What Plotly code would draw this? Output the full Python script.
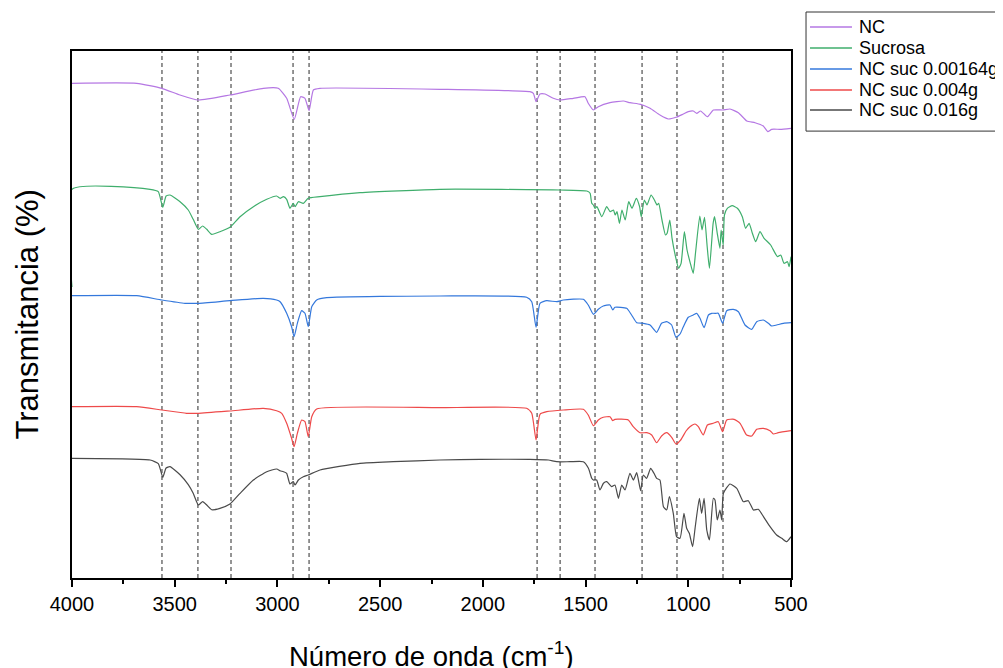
import plotly.graph_objects as go

# ---------------- data (wavenumber cm^-1, transmittance a.u.) ----------------
nc_wn = [4000, 3685, 3563, 3474, 3385, 3231, 3069, 2996, 2955, 2918, 2887, 2866, 2846, 2825, 2793,
         2209, 1771, 1754, 1741, 1722, 1697, 1657, 1624, 1560, 1503, 1487, 1462, 1438, 1381, 1316,
         1284, 1232, 1186, 1138, 1097, 1060, 1024, 1000, 976, 959, 940, 907, 878, 832, 797, 756,
         715, 675, 635, 613, 594, 553, 500]
nc_t = [494.7, 494.7, 489.7, 483, 478, 483, 489.7, 489.7, 479.7, 458.7, 481.3, 479.7, 467.3, 488, 489.7,
        488.7, 486.3, 484.7, 476.3, 484, 484, 479.7, 478, 479.7, 481.3, 474.7, 468, 471.3, 475.3, 477,
        475.3, 473.7, 469.7, 463, 459, 460.7, 464, 466.3, 467, 464.7, 467, 461.3, 468, 468, 469, 465.3,
        457, 455.3, 452, 446.3, 448.7, 448.7, 449.7]

suc_wn = [4000, 4000, 3620, 3580, 3558, 3542, 3523, 3474, 3434, 3410, 3385, 3364, 3344, 3320, 3280,
          3231, 3182, 3117, 3052, 3004, 2987, 2971, 2955, 2939, 2923, 2914, 2898, 2874, 2850, 2793,
          2598, 2209, 1624, 1494, 1478, 1470, 1462, 1454, 1445, 1421, 1397, 1380, 1364, 1356, 1347,
          1335, 1323, 1307, 1290, 1274, 1253, 1237, 1229, 1214, 1201, 1181, 1165, 1152, 1144, 1128,
          1111, 1103, 1090, 1079, 1062, 1047, 1035, 1019, 1006, 990, 976, 965, 944, 933, 921,
          908, 897, 879, 872, 859, 846, 840, 830, 824, 810, 786, 761, 737, 721, 704,
          688, 672, 651, 631, 599, 566, 550, 534, 517, 509, 500]
suc_t = [291, 388.7, 388.7, 386.3, 370.7, 382, 383, 376.3, 368, 358.7, 348.7, 352, 348.7, 343.7, 346.3,
         350.7, 361.3, 371.3, 378.7, 382, 379.7, 381.3, 378.7, 369.7, 374.7, 371.3, 376.3, 374.7, 379.7, 381.3,
         385.3, 388.7, 388, 387, 384.7, 374.7, 373, 369.7, 371.3, 361.3, 371.3, 366.3, 368, 363, 366.3,
         354.7, 368, 358, 376.3, 369.7, 379.7, 371.3, 361.3, 378, 373, 383, 378, 373, 374.7, 358,
         343, 344.7, 358, 339.7, 321.3, 309.7, 314.7, 346.3, 328, 314.7, 304.7, 324.7, 362, 348, 360.7,
         331.3, 309.7, 354.7, 361.3, 344.7, 329.7, 348, 333, 363, 369.7, 372.3, 369.7, 361.3, 349.7, 354.7,
         344.7, 336.3, 346.3, 339.7, 333, 321.3, 323, 314.7, 316.3, 311.3, 321.3]

s1_wn = [4000, 3685, 3563, 3450, 3385, 3231, 3069, 3004, 2987, 2955, 2931, 2919, 2903, 2882, 2866,
         2850, 2833, 2809, 2760, 2209, 1787, 1762, 1741, 1722, 1689, 1640, 1608, 1511, 1487, 1462,
         1438, 1414, 1381, 1368, 1357, 1300, 1276, 1251, 1219, 1186, 1154, 1130, 1105, 1081, 1060,
         1040, 1024, 1000, 976, 959, 943, 923, 902, 886, 865, 854, 833, 813, 781, 756,
         724, 691, 667, 635, 610, 594, 570, 537, 500]
s1_t = [282.3, 282.3, 278, 274.7, 274.7, 277.3, 279.7, 278, 276.3, 264.7, 251.3, 241.3, 254.7, 267.3, 264.7,
        251.3, 271.3, 278, 280.3, 282, 280.7, 276.3, 250.7, 274.7, 277.3, 276.3, 278, 278.7, 273, 263.7,
        268.7, 272, 273, 268, 270.7, 269.7, 263, 255.3, 254.7, 253, 245.7, 254.7, 256.3, 253, 240.7,
        244, 251.3, 260.7, 263, 264.7, 259.7, 250.3, 263, 264.7, 264.7, 264.7, 254.7, 267.3, 268.7, 266.3,
        253, 248.7, 256.3, 258, 254.7, 252, 253, 254.7, 255.3]

s2_wn = [4000, 3685, 3563, 3442, 3385, 3231, 3069, 3004, 2979, 2955, 2931, 2919, 2903, 2882, 2866,
         2850, 2833, 2809, 2209, 1787, 1762, 1741, 1722, 1689, 1608, 1511, 1487, 1462, 1438, 1414,
         1381, 1368, 1357, 1292, 1268, 1235, 1202, 1178, 1154, 1130, 1105, 1081, 1060, 1037, 1011,
         992, 967, 951, 927, 907, 878, 854, 833, 813, 777, 748, 716, 691, 667, 635,
         602, 586, 562, 500]
s2_t = [171.3, 171.3, 168, 164.7, 164.7, 167, 169.7, 167.3, 164.7, 154.7, 139.7, 131.3, 144.7, 158, 156.3,
        141.3, 161.3, 169, 170.3, 169.7, 164.7, 138, 163.7, 166.3, 168, 168.7, 163, 152.3, 158, 160.7,
        161.3, 157.3, 158.7, 158, 151.3, 145.3, 145.3, 143, 135.3, 142, 145.3, 140.7, 134, 138, 147,
        151.3, 154, 151.3, 143, 153, 154.7, 156.3, 146.3, 158, 158.7, 154.7, 143, 142, 148.7, 149.7,
        147.3, 144, 145.3, 147.3]

s3_wn = [4000, 3620, 3580, 3558, 3542, 3523, 3474, 3434, 3410, 3385, 3364, 3344, 3320, 3280, 3231,
         3182, 3117, 3052, 3004, 2987, 2971, 2955, 2939, 2923, 2914, 2898, 2874, 2850, 2793, 2598,
         2436, 2209, 2014, 1771, 1681, 1641, 1576, 1511, 1486, 1470, 1462, 1446, 1430, 1413, 1397,
         1373, 1357, 1340, 1324, 1308, 1284, 1267, 1251, 1232, 1219, 1203, 1183, 1167, 1154, 1138,
         1121, 1105, 1092, 1073, 1057, 1040, 1021, 1008, 995, 979, 967, 946, 935, 923, 910,
         897, 878, 870, 859, 846, 837, 829, 797, 764, 732, 708, 683, 659, 634, 602,
         570, 545, 521, 500]
s3_t = [119.7, 118, 114.3, 100.7, 110, 111.3, 103.3, 93.3, 84.7, 73, 76.3, 73, 68.3, 69.7, 74,
        84.7, 98, 106.3, 109, 107.3, 106.3, 104.7, 94, 96.3, 93, 98, 101.3, 103, 108, 114.7,
        116.3, 118, 118.7, 118.7, 118, 116.3, 116.3, 116.3, 109.7, 99.7, 98, 98, 88, 94.7, 96.3,
        91.3, 93, 79.7, 93, 88, 104.7, 98, 105.3, 87.3, 103, 99.7, 109.7, 104.7, 99.7, 98,
        71.3, 68, 81.3, 64.7, 41.3, 39.7, 64.7, 49.7, 44.7, 31.3, 49.7, 79.7, 64.7, 79.7, 48,
        38, 79.7, 78, 58, 68, 58, 84.7, 94, 89.7, 76.3, 77.3, 68, 68.7, 61.3, 51.3,
        43, 39.7, 36.3, 41.3]

series_names = ["NC", "Sucrosa", "NC suc 0.00164g", "NC suc 0.004g", "NC suc 0.016g"]
series_colors = ["#B577E3", "#3FAE6C", "#3478DC", "#EE4A4A", "#4A4A4A"]

peak_lines = [3562, 3387, 3226, 2924, 2846, 1736, 1624, 1454, 1225, 1055, 831]
x_ticks = [4000, 3500, 3000, 2500, 2000, 1500, 1000, 500]

# ---------------- figure ----------------
FONT = "Liberation Sans, Arial, sans-serif"
fig = go.Figure()
all_series = [(nc_wn, nc_t), (suc_wn, suc_t), (s1_wn, s1_t), (s2_wn, s2_t), (s3_wn, s3_t)]
for (wn, t), name, col in zip(all_series, series_names, series_colors):
    fig.add_trace(go.Scatter(x=wn, y=t, mode="lines", name=name, showlegend=False,
                             cliponaxis=False,
                             line=dict(color=col, width=1.2, shape="spline", smoothing=0.5)))

shapes = []
for p in peak_lines:
    shapes.append(dict(type="line", xref="x", yref="paper", x0=p, x1=p, y0=0, y1=1,
                       line=dict(color="#2a2a2a", width=1, dash="4px,3px"), layer="below"))

# legend drawn in paper coordinates (box, line samples, labels)
leg_x0, leg_x1, leg_top, leg_bot = 1.0209, 1.30, 1.074, 0.848
shapes.append(dict(type="rect", xref="paper", yref="paper", x0=leg_x0, x1=leg_x1,
                   y0=leg_bot, y1=leg_top, line=dict(color="#333333", width=1),
                   fillcolor="white", layer="above"))
annotations = []
leg_rows = [1.0455, 1.0057, 0.9658, 0.9260, 0.8880]
for name, col, yy in zip(series_names, series_colors, leg_rows):
    shapes.append(dict(type="line", xref="paper", yref="paper", x0=1.0264, x1=1.0848,
                       y0=yy, y1=yy, line=dict(color=col, width=1.5), layer="above"))
    annotations.append(dict(text=name, xref="paper", yref="paper", x=1.0918, y=yy,
                            xanchor="left", yanchor="middle", showarrow=False,
                            font=dict(size=18, family=FONT, color="black")))

annotations += [
    dict(text="Número de onda (cm<sup>-1</sup>)", xref="paper", yref="paper",
         x=0.5, y=-0.146, xanchor="center", yanchor="middle", showarrow=False,
         font=dict(size=27.5, family=FONT, color="black")),
    dict(text="Transmitancia (%)", xref="paper", yref="paper",
         x=-0.0612, y=0.5, xanchor="center", yanchor="middle", showarrow=False,
         textangle=-90, font=dict(size=31, family=FONT, color="black")),
]

fig.update_layout(
    width=1003, height=668,
    margin=dict(l=64, r=220, t=43, b=98, autoexpand=False),
    paper_bgcolor="white", plot_bgcolor="white",
    font=dict(family=FONT, color="#000000"),
    showlegend=False,
    xaxis=dict(range=[4000, 500], tickvals=x_ticks, ticktext=[str(v) for v in x_ticks],
               ticks="outside", ticklen=7, tickwidth=1.5, tickcolor="black",
               minor=dict(dtick=250, ticks="outside", ticklen=4, tickwidth=1.5, tickcolor="black",
                          tick0=500),
               showgrid=False, zeroline=False, showline=True, linecolor="black", linewidth=2,
               mirror=True, layer="below traces",
               tickfont=dict(size=20, family=FONT, color="black")),
    yaxis=dict(range=[0, 527], showticklabels=False, ticks="", showgrid=False, zeroline=False,
               showline=True, linecolor="black", linewidth=2, mirror=True, layer="below traces"),
    shapes=shapes,
    annotations=annotations,
)

fig.write_html("out.html")
